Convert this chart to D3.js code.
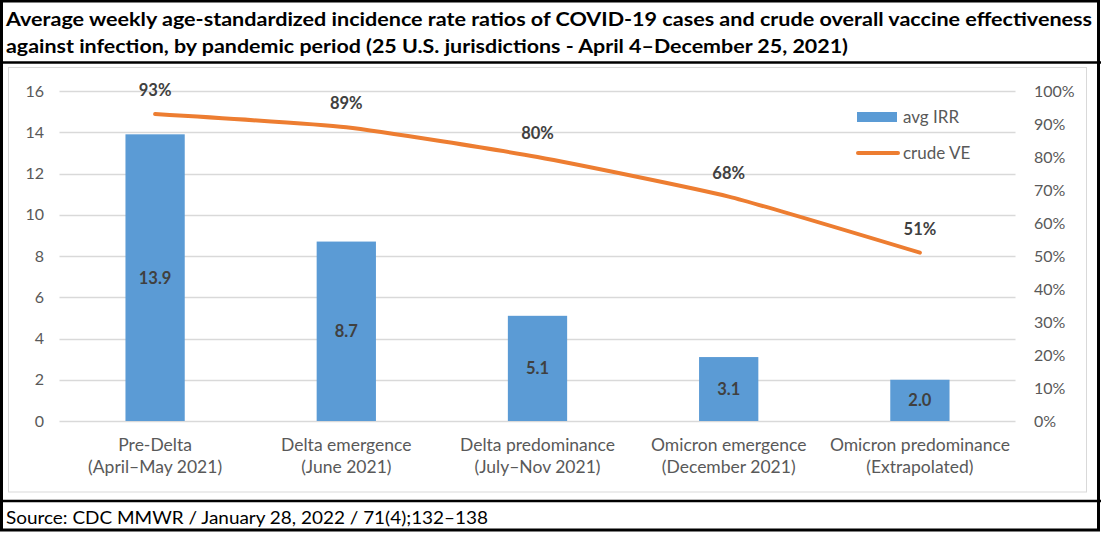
<!DOCTYPE html>
<html>
<head>
<meta charset="utf-8">
<script src="https://cdn.jsdelivr.net/npm/d3@7"></script>
<style>
  body { margin: 0; background: #fff; }
  svg { display: block; font-family: Lato, "Open Sans", sans-serif; }
</style>
</head>
<body>
<svg id="chart" width="1101" height="533"></svg>
<script>
const periods = ["Pre-Delta", "Delta emergence", "Delta predominance", "Omicron emergence", "Omicron predominance"];
const periodDates = ["(April\u2013May 2021)", "(June 2021)", "(July\u2013Nov 2021)", "(December 2021)", "(Extrapolated)"];
const avgIRR = [13.9, 8.7, 5.1, 3.1, 2.0];
const crudeVE = [0.93, 0.89, 0.80, 0.68, 0.51];
const leftTicks = [0, 2, 4, 6, 8, 10, 12, 14, 16];
const rightTicks = [0, 0.1, 0.2, 0.3, 0.4, 0.5, 0.6, 0.7, 0.8, 0.9, 1.0];

const svg = d3.select("#chart");

// frames
svg.append("rect").attr("x", 1.5).attr("y", 1).attr("width", 1097).attr("height", 529)
  .attr("fill", "none").attr("stroke", "#000").attr("stroke-width", 3);
svg.append("line").attr("x1", 0).attr("x2", 1101).attr("y1", 62.5).attr("y2", 62.5)
  .attr("stroke", "#000").attr("stroke-width", 2.5);
svg.append("line").attr("x1", 0).attr("x2", 1101).attr("y1", 501).attr("y2", 501)
  .attr("stroke", "#000").attr("stroke-width", 2.5);
svg.append("rect").attr("x", 8.5).attr("y", 67.5).attr("width", 1078).attr("height", 424.5)
  .attr("fill", "none").attr("stroke", "#d9d9d9").attr("stroke-width", 1);

// title
const title = svg.append("g").attr("font-weight", "bold").attr("font-size", 19).attr("fill", "#000");
title.append("text").attr("x", 6).attr("y", 26)
  .attr("textLength", 1086).attr("lengthAdjust", "spacingAndGlyphs")
  .text("Average weekly age-standardized incidence rate ratios of COVID-19 cases and crude overall vaccine effectiveness");
title.append("text").attr("x", 6).attr("y", 53)
  .attr("textLength", 842).attr("lengthAdjust", "spacingAndGlyphs")
  .text("against infection, by pandemic period (25 U.S. jurisdictions - April 4\u2013December 25, 2021)");

svg.append("text").attr("x", 6).attr("y", 524).attr("font-size", 18)
  .attr("textLength", 482).attr("lengthAdjust", "spacingAndGlyphs")
  .text("Source: CDC MMWR / January 28, 2022 / 71(4);132\u2013138");

// scales
const x = d3.scaleBand().domain(periods).range([59.5, 1015.5]).paddingInner(0.69).paddingOuter(0.345);
const y = d3.scaleLinear().domain([0, 16]).range([421, 91]);
const y2 = d3.scaleLinear().domain([0, 1]).range([421, 91]);

// gridlines
svg.append("g").selectAll("line").data(leftTicks).join("line")
  .attr("x1", 59.5).attr("x2", 1015.5)
  .attr("y1", d => Math.round(y(d)) + 0.5).attr("y2", d => Math.round(y(d)) + 0.5)
  .attr("stroke", "#d9d9d9").attr("stroke-width", 1.3);

// axes
const leftAxis = svg.append("g").attr("transform", "translate(44,0)")
  .call(d3.axisLeft(y).tickValues(leftTicks).tickSize(0).tickPadding(0));
const rightAxis = svg.append("g").attr("transform", "translate(1034,0)")
  .call(d3.axisRight(y2).tickValues(rightTicks).tickSize(0).tickPadding(0).tickFormat(d3.format(".0%")));
[leftAxis, rightAxis].forEach(a => {
  a.select(".domain").remove();
  a.selectAll("text").attr("font-size", 16).attr("fill", "#595959").attr("font-family", "Lato, sans-serif");
});

// bars
svg.append("g").selectAll("rect").data(avgIRR).join("rect")
  .attr("x", (d, i) => x(periods[i]))
  .attr("width", x.bandwidth())
  .attr("y", d => y(d))
  .attr("height", d => y(0) - y(d))
  .attr("fill", "#5b9bd5");

svg.append("g").selectAll("text").data(avgIRR).join("text")
  .attr("x", (d, i) => x(periods[i]) + x.bandwidth() / 2)
  .attr("y", d => (y(d) + y(0)) / 2 + 6)
  .attr("text-anchor", "middle").attr("font-size", 16.5).attr("font-weight", "bold").attr("fill", "#404040")
  .text(d => d.toFixed(1));

// line
const cx = i => x(periods[i]) + x.bandwidth() / 2;
const line = d3.line().x((d, i) => cx(i)).y(d => y2(d)).curve(d3.curveCardinal.tension(0.5));
svg.append("path").datum(crudeVE).attr("d", line)
  .attr("fill", "none").attr("stroke", "#ed7d31").attr("stroke-width", 4).attr("stroke-linecap", "round");

svg.append("g").selectAll("text").data(crudeVE).join("text")
  .attr("x", (d, i) => cx(i))
  .attr("y", d => y2(d) - 18)
  .attr("text-anchor", "middle").attr("font-size", 16.5).attr("font-weight", "bold").attr("fill", "#404040")
  .text(d => d3.format(".0%")(d));

// x labels
const xl = svg.append("g").attr("font-size", 17.5).attr("fill", "#595959").attr("text-anchor", "middle");
xl.selectAll("text.l1").data(periods).join("text").attr("class", "l1")
  .attr("x", (d, i) => cx(i)).attr("y", 451).text(d => d);
xl.selectAll("text.l2").data(periodDates).join("text").attr("class", "l2")
  .attr("x", (d, i) => cx(i)).attr("y", 473).text(d => d);

// legend
const lg = svg.append("g").attr("font-size", 17).attr("fill", "#595959");
lg.append("rect").attr("x", 857).attr("y", 112).attr("width", 40).attr("height", 10).attr("fill", "#5b9bd5");
lg.append("text").attr("x", 903).attr("y", 123).text("avg IRR");
lg.append("line").attr("x1", 858).attr("x2", 898).attr("y1", 153).attr("y2", 153)
  .attr("stroke", "#ed7d31").attr("stroke-width", 4).attr("stroke-linecap", "round");
lg.append("text").attr("x", 903).attr("y", 159).text("crude VE");
</script>
</body>
</html>
